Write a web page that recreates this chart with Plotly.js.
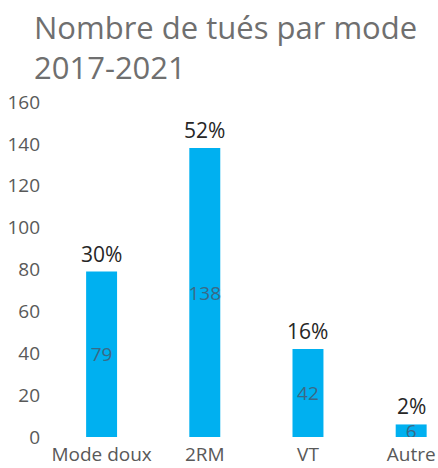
<!DOCTYPE html>
<html>
<head>
<meta charset="utf-8">
<script src="https://cdn.plot.ly/plotly-3.0.1.min.js"></script>
<style>
  html, body { margin: 0; padding: 0; background: #fff; }
  #chart { width: 438px; height: 468px; }
</style>
</head>
<body>
<div id="chart"></div>
<script>
// nombre de tués par mode, 2017-2021
const modes = ['Mode doux', '2RM', 'VT', 'Autre'];
const tues = [79, 138, 42, 6];
const parts = ['30%', '52%', '16%', '2%'];

const fontFamily = '"Open Sans", "Noto Sans", sans-serif';

let bars = [{
  type: 'bar',
  x: modes,
  y: tues,
  text: tues.map(String),
  textposition: 'inside',
  insidetextanchor: 'middle',
  textangle: 0,
  constraintext: 'none',
  insidetextfont: {family: fontFamily, size: 19, color: '#3a6986'},
  marker: {color: '#00b0f0'},
  width: 0.3,
  hoverinfo: 'x+y'
}];

// pourcentages au-dessus des barres
let annotations = modes.map((m, i) => ({
  x: m,
  y: tues[i],
  xref: 'x',
  yref: 'y',
  text: parts[i],
  showarrow: false,
  yanchor: 'bottom',
  yshift: 2,
  font: {family: fontFamily, size: 21, color: '#262626'}
}));

let layout = {
  width: 438,
  height: 468,
  margin: {l: 50, r: 0, t: 102, b: 31},
  paper_bgcolor: '#ffffff',
  plot_bgcolor: '#ffffff',
  showlegend: false,
  title: {
    text: 'Nombre de tués par mode<br>2017-2021',
    x: 34 / 438,
    xref: 'container',
    xanchor: 'left',
    y: 1 - 39 / 468,
    yref: 'container',
    yanchor: 'top',
    font: {family: fontFamily, size: 31, color: '#6f6f6f'}
  },
  xaxis: {
    type: 'category',
    range: [-0.5, 3.26],
    showgrid: false,
    showline: false,
    zeroline: false,
    ticks: '',
    ticklabelstandoff: 4,
    tickfont: {family: fontFamily, size: 19, color: '#595959'}
  },
  yaxis: {
    range: [0, 160],
    dtick: 20,
    showgrid: false,
    showline: false,
    zeroline: false,
    ticks: '',
    ticklabelstandoff: 9,
    tickfont: {family: fontFamily, size: 19, color: '#595959'}
  },
  annotations: annotations
};

Plotly.newPlot('chart', bars, layout, {displayModeBar: false, staticPlot: true});
</script>
</body>
</html>
